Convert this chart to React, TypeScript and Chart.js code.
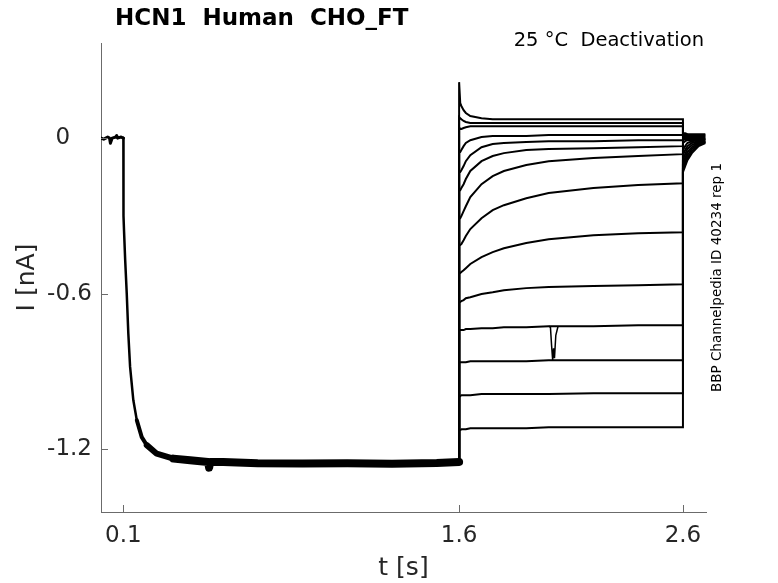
import { useEffect, useRef } from "react";
import { Chart, registerables } from "chart.js";

Chart.register(...registerables);

const titleText = "HCN1  Human  CHO_FT";
const subtitleText = "25 °C  Deactivation";
const sideText = "BBP Channelpedia ID 40234 rep 1";

const xTicks = [0.1, 1.6, 2.6];
const yTicks = [-1.2, -0.6, 0];

// holding + activating prepulse (all sweeps overlap here)
const preT = [0, 0.012, 0.03, 0.038, 0.042, 0.05, 0.066, 0.07, 0.074, 0.09, 0.1, 0.1005, 0.103, 0.108, 0.115, 0.122, 0.13, 0.1445, 0.16, 0.182, 0.2045, 0.249, 0.3235, 0.398, 0.478, 0.483, 0.488, 0.546, 0.7, 0.9, 1.1, 1.3, 1.5, 1.6];
const preI = [0, -0.004, 0.004, 0, -0.02, 0, 0.004, 0.01, 0, 0.004, 0, -0.3, -0.36, -0.47, -0.6, -0.753, -0.883, -1.012, -1.089, -1.154, -1.185, -1.218, -1.237, -1.243, -1.25, -1.272, -1.25, -1.25, -1.255, -1.256, -1.255, -1.257, -1.254, -1.25];

// test pulses 1.6 - 2.6 s
const stepT = [1.6, 1.605, 1.61, 1.62, 1.63, 1.65, 1.7, 1.75, 1.8, 1.9, 2.0, 2.2, 2.4, 2.6];
const stepI = [
  [0.216, 0.135, 0.124, 0.108, 0.097, 0.085, 0.077, 0.073, 0.073, 0.073, 0.073, 0.073, 0.073, 0.073],
  [0.081, 0.077, 0.073, 0.066, 0.062, 0.058, 0.058, 0.058, 0.058, 0.058, 0.058, 0.058, 0.058, 0.058],
  [0.042, 0.035, 0.035, 0.039, 0.042, 0.046, 0.046, 0.046, 0.046, 0.046, 0.046, 0.046, 0.046, 0.046],
  [-0.054, -0.054, -0.046, -0.031, -0.019, -0.008, 0.004, 0.008, 0.008, 0.008, 0.012, 0.012, 0.012, 0.012],
  [-0.131, -0.131, -0.124, -0.108, -0.089, -0.066, -0.035, -0.023, -0.019, -0.015, -0.012, -0.012, -0.008, -0.008],
  [-0.201, -0.201, -0.193, -0.178, -0.158, -0.127, -0.089, -0.069, -0.058, -0.046, -0.042, -0.039, -0.035, -0.031],
  [-0.309, -0.309, -0.301, -0.282, -0.263, -0.228, -0.178, -0.147, -0.127, -0.104, -0.089, -0.077, -0.069, -0.062],
  [-0.413, -0.413, -0.409, -0.394, -0.378, -0.351, -0.309, -0.278, -0.259, -0.232, -0.212, -0.193, -0.181, -0.174],
  [-0.521, -0.521, -0.517, -0.51, -0.502, -0.486, -0.459, -0.44, -0.425, -0.405, -0.39, -0.375, -0.367, -0.363],
  [-0.633, -0.633, -0.629, -0.625, -0.618, -0.614, -0.602, -0.595, -0.587, -0.579, -0.575, -0.571, -0.568, -0.564],
  [-0.741, -0.741, -0.741, -0.741, -0.737, -0.737, -0.734, -0.734, -0.73, -0.73, -0.726, -0.726, -0.722, -0.722],
  [-0.865, -0.865, -0.865, -0.865, -0.865, -0.861, -0.861, -0.861, -0.861, -0.861, -0.857, -0.857, -0.857, -0.857],
  [-0.996, -0.996, -0.992, -0.992, -0.992, -0.992, -0.988, -0.988, -0.988, -0.988, -0.988, -0.985, -0.985, -0.985],
  [-1.127, -1.127, -1.124, -1.124, -1.124, -1.12, -1.12, -1.12, -1.12, -1.12, -1.116, -1.116, -1.116, -1.116],
];

// tail currents after 2.6 s
const tailT = [2.6, 2.61, 2.62, 2.64, 2.67, 2.7];
const tailI = [
  [0.019, 0.019, 0.015, 0.015, 0.015, 0.015],
  [0.015, 0.015, 0.012, 0.012, 0.012, 0.012],
  [0.012, 0.012, 0.008, 0.008, 0.008, 0.008],
  [0.008, 0.008, 0.004, 0.004, 0.004, 0.004],
  [0, 0, 0, 0, 0, 0],
  [-0.008, -0.004, -0.004, -0.004, -0.004, -0.004],
  [-0.019, -0.012, -0.008, -0.008, -0.004, -0.004],
  [-0.046, -0.031, -0.019, -0.012, -0.008, -0.004],
  [-0.066, -0.046, -0.031, -0.019, -0.012, -0.008],
  [-0.085, -0.062, -0.042, -0.027, -0.015, -0.012],
  [-0.1, -0.077, -0.054, -0.035, -0.019, -0.012],
  [-0.116, -0.089, -0.066, -0.042, -0.023, -0.015],
  [-0.124, -0.1, -0.077, -0.05, -0.027, -0.015],
  [-0.131, -0.108, -0.085, -0.058, -0.031, -0.019],
];

// artefact on the -0.74 nA sweep
const glitchT = [2.0, 2.008, 2.013, 2.018, 2.022, 2.026, 2.032, 2.042];
const glitchI = [-0.726, -0.73, -0.799, -0.857, -0.811, -0.849, -0.761, -0.726];

const axisColor = "#6b6b6b";
const textColor = "#262626";
const font = '"DejaVu Sans", sans-serif';

const decorations = {
  id: "decorations",
  afterDraw(chart: any) {
    const { ctx, chartArea, scales } = chart;
    ctx.save();
    // inward tick marks
    ctx.strokeStyle = axisColor;
    ctx.lineWidth = 1;
    ctx.beginPath();
    xTicks.forEach((v) => {
      const px = Math.round(scales.x.getPixelForValue(v)) + 0.5;
      ctx.moveTo(px, chartArea.bottom);
      ctx.lineTo(px, chartArea.bottom - 7);
    });
    yTicks.forEach((v) => {
      const py = Math.round(scales.y.getPixelForValue(v)) + 0.5;
      ctx.moveTo(chartArea.left, py);
      ctx.lineTo(chartArea.left + 7, py);
    });
    ctx.stroke();

    ctx.fillStyle = "#000";
    ctx.textBaseline = "middle";
    ctx.font = `bold 23px ${font}`;
    ctx.textAlign = "left";
    ctx.fillText(titleText, chartArea.left + 14, 19);

    ctx.font = `19.5px ${font}`;
    ctx.textAlign = "right";
    ctx.fillText(subtitleText, chartArea.right - 2, 41);

    ctx.font = `13.5px ${font}`;
    ctx.textAlign = "center";
    ctx.translate(chartArea.right + 11, (chartArea.top + chartArea.bottom) / 2);
    ctx.rotate(-Math.PI / 2);
    ctx.fillText(sideText, 0, 0);
    ctx.restore();
  },
};

export default function App() {
  const canvasRef = useRef<HTMLCanvasElement>(null);
  const chartRef = useRef<Chart | null>(null);

  useEffect(() => {
    document.body.style.margin = "0";
    if (!canvasRef.current) return;
    if (chartRef.current) chartRef.current.destroy();

    const preEnd = preI[preI.length - 1];
    const datasets: any[] = [
      {
        data: preT.map((t, i) => ({ x: t, y: preI[i] })),
        borderColor: "#000",
        borderWidth: 3,
        borderJoinStyle: "round",
        borderCapStyle: "round",
        segment: {
          borderWidth: (c: any) => {
            const x = c.p0.parsed.x;
            if (x < 0.1) return 3;
            if (x < 0.15) return 2.5;
            if (x < 0.2) return 4;
            if (x < 0.3) return 6;
            return 8;
          },
        },
      },
    ];
    stepI.forEach((sweep, i) => {
      datasets.push({
        data: [
          { x: 1.6, y: preEnd },
          ...stepT.map((t, j) => ({ x: t, y: sweep[j] })),
          ...tailT.map((t, j) => ({ x: t, y: tailI[i][j] })),
        ],
        borderColor: "#000",
        borderWidth: 2,
      });
    });
    datasets.push({
      data: glitchT.map((t, i) => ({ x: t, y: glitchI[i] })),
      borderColor: "#000",
      borderWidth: 1.5,
    });

    chartRef.current = new Chart(canvasRef.current, {
      type: "line",
      data: { datasets },
      plugins: [decorations],
      options: {
        animation: false,
        responsive: true,
        maintainAspectRatio: false,
        devicePixelRatio: 1,
        layout: { padding: { left: 0, right: 72, top: 43, bottom: 0 } },
        elements: { point: { radius: 0 }, line: { tension: 0 } },
        plugins: { legend: { display: false }, tooltip: { enabled: false } },
        scales: {
          x: {
            type: "linear",
            min: 0,
            max: 2.703,
            afterBuildTicks: (s: any) => {
              s.ticks = xTicks.map((v) => ({ value: v }));
            },
            afterFit: (s: any) => {
              s.height = 71;
            },
            grid: { display: false, drawTicks: false },
            border: { display: true, color: axisColor, width: 1 },
            ticks: {
              padding: 10,
              color: textColor,
              font: { family: font, size: 23 },
              maxRotation: 0,
              callback: (v: any) => Number(v).toFixed(1),
            },
            title: {
              display: true,
              text: "t [s]",
              color: textColor,
              font: { family: font, size: 25 },
              padding: { top: 0, bottom: 0 },
            },
          },
          y: {
            type: "linear",
            min: -1.443,
            max: 0.367,
            afterBuildTicks: (s: any) => {
              s.ticks = yTicks.map((v) => ({ value: v }));
            },
            afterFit: (s: any) => {
              s.width = 101;
            },
            grid: { display: false, drawTicks: false },
            border: { display: true, color: axisColor, width: 1 },
            ticks: {
              padding: 9,
              color: textColor,
              font: { family: font, size: 23 },
              callback: (v: any) => (Number(v) === 0 ? "0   " : Number(v).toFixed(1)),
            },
            title: {
              display: true,
              text: "I [nA]",
              color: textColor,
              font: { family: font, size: 25 },
              padding: { top: 12, bottom: 0 },
            },
          },
        },
      } as any,
    });

    return () => {
      if (chartRef.current) {
        chartRef.current.destroy();
        chartRef.current = null;
      }
    };
  }, []);

  return (
    <div style={{ position: "relative", width: 778, height: 583 }}>
      <canvas ref={canvasRef} />
    </div>
  );
}
